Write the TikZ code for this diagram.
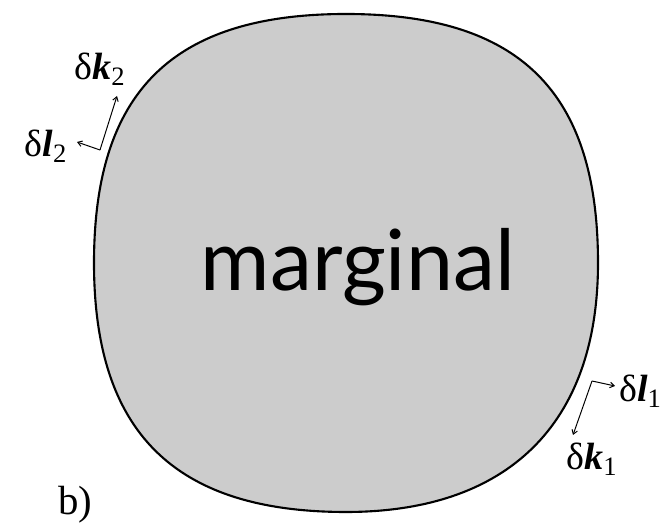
\documentclass[tikz,border=0pt]{standalone}
\usepackage{fontspec}
\setmainfont{Liberation Serif}
\newfontfamily\regionfont{Lato}
\usetikzlibrary{arrows.meta}

\tikzset{
    region/.style={fill=black!20, draw=black, line width=1.5pt},
    vec/.style={-{Straight Barb[length=3pt,width=4pt]}, line width=0.7pt},
    veclabel/.style={font=\fontsize{27}{29}\selectfont, inner sep=0pt, anchor=base}
}

\begin{document}
\begin{tikzpicture}[x=0.025cm, y=0.025cm]
    \useasboundingbox (0,0) rectangle (665,524);
    % marginal region
    \draw[region] (346,510)
        .. controls (520,510) and (598,432) .. (598,261)
        .. controls (598,100) and (508,12) .. (346,12)
        .. controls (174,12) and (94,92) .. (94,261)
        .. controls (94,432) and (172,510) .. (346,510) -- cycle;
    \node[font=\regionfont\fontsize{60}{62}\selectfont, inner sep=0pt, anchor=base] (marg) at (358,233) {marginal};

    % displacement at upper left
    \coordinate (o2) at (100,374);
    \coordinate (k2tip) at (117,428);
    \coordinate (l2tip) at (77,382);
    \draw[vec] (o2) -- (k2tip);
    \draw[vec] (o2) -- (l2tip);
    \node[veclabel] (k2) at (100,444) {δ\textbf{\textit{k}}\textsubscript{2}};
    \node[veclabel] (l2) at (46,367) {δ\textbf{\textit{l}}\textsubscript{2}};

    % displacement at lower right
    \coordinate (o1) at (592,143);
    \coordinate (l1tip) at (615,138);
    \coordinate (k1tip) at (573,89);
    \draw[vec] (o1) -- (l1tip);
    \draw[vec] (o1) -- (k1tip);
    \node[veclabel, anchor=base west] (l1) at (619,122) {δ\textbf{\textit{l}}\textsubscript{1}};
    \node[veclabel] (k1) at (592,54) {δ\textbf{\textit{k}}\textsubscript{1}};

    \node[font=\fontsize{29}{31}\selectfont, inner sep=0pt, anchor=base] (panel) at (75,9) {b)};
\end{tikzpicture}
\end{document}
